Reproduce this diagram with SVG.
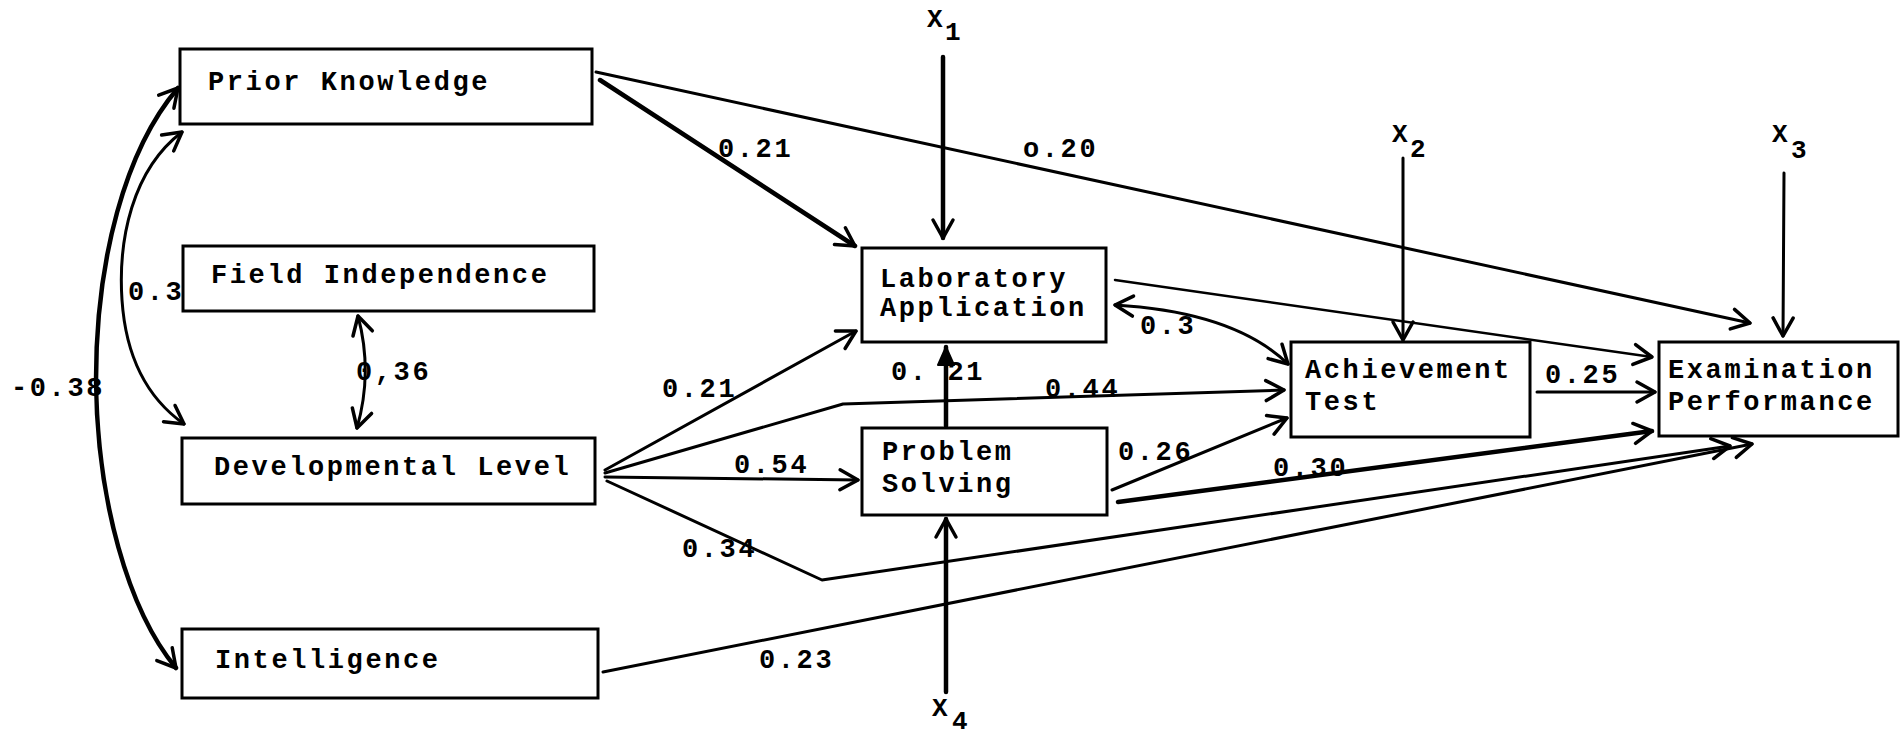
<svg xmlns="http://www.w3.org/2000/svg" width="1900" height="734" viewBox="0 0 1900 734">
<style>
.box{fill:#fff;stroke:#000;stroke-width:3}
.t{font-family:"Liberation Mono","Courier New",monospace;font-size:27px;font-weight:bold;letter-spacing:2.6px;fill:#000}
.x{font-family:"Liberation Mono","Courier New",monospace;font-size:26px;font-weight:bold;fill:#000}
.c{fill:none;stroke:#000;stroke-width:3;stroke-linecap:round;stroke-linejoin:round}
.k{stroke-width:4.5}
.n{stroke-width:2.5}
</style>
<defs>
<marker id="a" markerUnits="userSpaceOnUse" markerWidth="30" markerHeight="30" refX="22" refY="12" orient="auto-start-reverse" overflow="visible">
<path d="M4,2 L22,12 L4,22" fill="none" stroke="#000" stroke-width="3.5" stroke-linecap="round" stroke-linejoin="round"/>
</marker>
<marker id="f" markerUnits="userSpaceOnUse" markerWidth="30" markerHeight="30" refX="20" refY="10" orient="auto" overflow="visible">
<path d="M2,2 L20,10 L2,18 Z" fill="#000" stroke="#000" stroke-width="2" stroke-linejoin="round"/>
</marker>
</defs>
<rect width="1900" height="734" fill="#fff"/>

<g id="connectors">
<path class="c k" d="M600,80 L855,246" marker-end="url(#a)"/>
<path class="c" d="M596,72 L1750,323" stroke-width="3.5" marker-end="url(#a)"/>
<path class="c k" d="M943,57 L943,238" marker-end="url(#a)"/>
<path class="c" d="M605,470 L856,331" stroke-width="3.5" marker-end="url(#a)"/>
<path class="c" d="M605,473 L843,404 L1284,390" marker-end="url(#a)"/>
<path class="c" d="M605,477 L858,480" marker-end="url(#a)"/>
<path class="c" d="M607,481 L822,580 L1730,446" stroke-width="3.5" marker-end="url(#a)"/>
<path class="c" d="M603,672 L1752,444" marker-end="url(#a)"/>
<path class="c k" d="M946,426 L946,347" marker-end="url(#f)"/>
<path class="c k" d="M946,692 L946,519" marker-end="url(#a)"/>
<path class="c" d="M1112,490 L1287,418" stroke-width="4" marker-end="url(#a)"/>
<path class="c k" d="M1118,502 L1652,431" marker-end="url(#a)"/>
<path class="c n" d="M1115,280 L1652,357" marker-end="url(#a)"/>
<path class="c" d="M1115,305 C1200,310 1255,332 1288,364" marker-start="url(#a)" marker-end="url(#a)"/>
<path class="c" d="M1537,392 L1655,392" marker-end="url(#a)"/>
<path class="c" d="M1403,158 L1403,340" marker-end="url(#a)"/>
<path class="c" d="M1784,173 L1783,336" marker-end="url(#a)"/>
<path class="c k" d="M178,88 C125,150 96,260 96,380 C97,500 128,610 176,668" marker-start="url(#a)" marker-end="url(#a)"/>
<path class="c" d="M182,132 C132,170 118,240 122,300 C126,360 150,400 184,424" marker-start="url(#a)" marker-end="url(#a)"/>
<path class="c" d="M358,316 Q373,372 357,428" marker-start="url(#a)" marker-end="url(#a)"/>

<text class="t" x="718" y="157">0.21</text>
<text class="t" x="1023" y="157">o.20</text>
<text class="t" x="128" y="300">0.3</text>
<text class="t" x="11" y="396">-0.38</text>
<text class="t" x="356" y="380">0,36</text>
<text class="t" x="662" y="397">0.21</text>
<text class="t" x="891" y="380">0. 21</text>
<text class="t" x="1045" y="397">0.44</text>
<text class="t" x="734" y="473">0.54</text>
<text class="t" x="682" y="557">0.34</text>
<text class="t" x="759" y="668">0.23</text>
<text class="t" x="1140" y="334">0.3</text>
<text class="t" x="1118" y="460">0.26</text>
<text class="t" x="1273" y="476">0.30</text>
<text class="t" x="1545" y="383">0.25</text>
</g>

<g id="x1"><text class="x" x="927" y="27">X<tspan x="945" y="40">1</tspan></text></g>
<g id="x2"><text class="x" x="1392" y="142">X<tspan x="1410" y="157">2</tspan></text></g>
<g id="x3"><text class="x" x="1772" y="142">X<tspan x="1791" y="158">3</tspan></text></g>
<g id="x4"><text class="x" x="932" y="716">X<tspan x="952" y="729">4</tspan></text></g>

<g id="prior-knowledge"><rect class="box" x="180" y="49" width="412" height="75"/><text class="t" x="208" y="90">Prior Knowledge</text></g>
<g id="field-independence"><rect class="box" x="183" y="246" width="411" height="65"/><text class="t" x="211" y="283">Field Independence</text></g>
<g id="developmental-level"><rect class="box" x="182" y="438" width="413" height="66"/><text class="t" x="214" y="475">Developmental Level</text></g>
<g id="intelligence"><rect class="box" x="182" y="629" width="416" height="69"/><text class="t" x="215" y="668">Intelligence</text></g>
<g id="laboratory-application"><rect class="box" x="862" y="248" width="244" height="94"/><text class="t" x="880" y="287">Laboratory</text><text class="t" x="880" y="316">Application</text></g>
<g id="problem-solving"><rect class="box" x="862" y="428" width="245" height="87"/><text class="t" x="882" y="460">Problem</text><text class="t" x="882" y="492">Solving</text></g>
<g id="achievement-test"><rect class="box" x="1291" y="342" width="239" height="95"/><text class="t" x="1305" y="378">Achievement</text><text class="t" x="1305" y="410">Test</text></g>
<g id="examination-performance"><rect class="box" x="1659" y="342" width="239" height="94"/><text class="t" x="1668" y="378">Examination</text><text class="t" x="1668" y="410">Performance</text></g>
</svg>
